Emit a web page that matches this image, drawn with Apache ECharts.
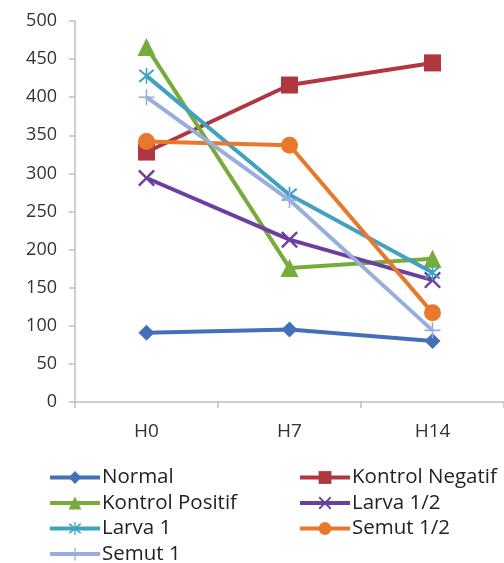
<!DOCTYPE html>
<html><head><meta charset="utf-8">
<script src="https://cdn.jsdelivr.net/npm/echarts@6/dist/echarts.min.js"></script>
<style>html,body{margin:0;padding:0;background:#fff}#c{width:504px;height:563px}</style>
</head><body><div id="c"></div>
<script>
const categories = ['H0', 'H7', 'H14'];
const seriesNames = ['Normal', 'Kontrol Negatif', 'Kontrol Positif', 'Larva 1/2', 'Larva 1', 'Semut 1/2', 'Semut 1'];
const normal = [91, 95, 80];
const kontrolNegatif = [328, 416, 445];
const kontrolPositif = [466, 176, 188];
const larvaHalf = [294, 213, 160];
const larva1 = [428, 272, 170];
const semutHalf = [342, 337, 117];
const semut1 = [400, 265, 94];
const yTicks = [0, 50, 100, 150, 200, 250, 300, 350, 400, 450, 500];

const allData = [normal, kontrolNegatif, kontrolPositif, larvaHalf, larva1, semutHalf, semut1];
const colors = ['#4470B8', '#B0363F', '#77AC3A', '#6A3F9E', '#3FA2BF', '#E8792C', '#98AEDC'];
const xPath = 'path://M0,2 L2,0 L10,8 L18,0 L20,2 L12,10 L20,18 L18,20 L10,12 L2,20 L0,18 L8,10 Z';
const starPath = 'path://M0,2 L2,0 L10,8 L18,0 L20,2 L12,10 L20,18 L18,20 L10,12 L2,20 L0,18 L8,10 Z M9,-2 L11,-2 L11,22 L9,22 Z';
const plusPath = 'path://M9,0 H11 V9 H20 V11 H11 V20 H9 V11 H0 V9 H9 Z';
const symbols = ['diamond', 'rect', 'triangle', xPath, starPath, 'circle', plusPath];
const sizes = [16, 17, 18, 17, 16, 17, 16];

// legend slot per series: [column, row]
const legendSlots = [[0, 0], [1, 0], [0, 1], [1, 1], [0, 2], [1, 2], [0, 3]];
const font = 'Open Sans';

const chart = echarts.init(document.getElementById('c'), null, {renderer: 'canvas'});
chart.setOption({
  animation: false,
  grid: {left: 75, top: 21, right: -4, bottom: 161, containLabel: false},
  xAxis: {
    type: 'category', data: categories, boundaryGap: true,
    axisLine: {lineStyle: {color: '#BFBFBF', width: 1.5}},
    axisTick: {show: true, length: 6, lineStyle: {color: '#BFBFBF', width: 1.5}},
    axisLabel: {color: '#333', fontFamily: font, fontSize: 19, margin: 20}
  },
  yAxis: {
    type: 'value', min: yTicks[0], max: yTicks[yTicks.length - 1], interval: 50,
    axisLine: {show: true, lineStyle: {color: '#BFBFBF', width: 1.5}},
    axisTick: {show: true, length: 6, lineStyle: {color: '#BFBFBF', width: 1.5}},
    splitLine: {show: false},
    axisLabel: {color: '#333', fontFamily: font, fontSize: 18, margin: 18}
  },
  legend: seriesNames.map((n, i) => ({
    data: [n],
    left: legendSlots[i][0] === 0 ? 43 : 293,
    top: 462 + legendSlots[i][1] * 25.5,
    itemWidth: 50, itemHeight: 16,
    lineStyle: {width: 4},
    textStyle: {fontFamily: font, fontSize: 20.5, lineHeight: 20, color: '#222', padding: [0, 0, 0, -3]}
  })),
  series: seriesNames.map((n, i) => ({
    name: n, type: 'line', data: allData[i],
    symbol: symbols[i], symbolSize: sizes[i], showAllSymbol: true,
    lineStyle: {color: colors[i], width: 4},
    itemStyle: {color: colors[i], borderWidth: 0},
    z: 2 + i
  }))
});
</script></body></html>
